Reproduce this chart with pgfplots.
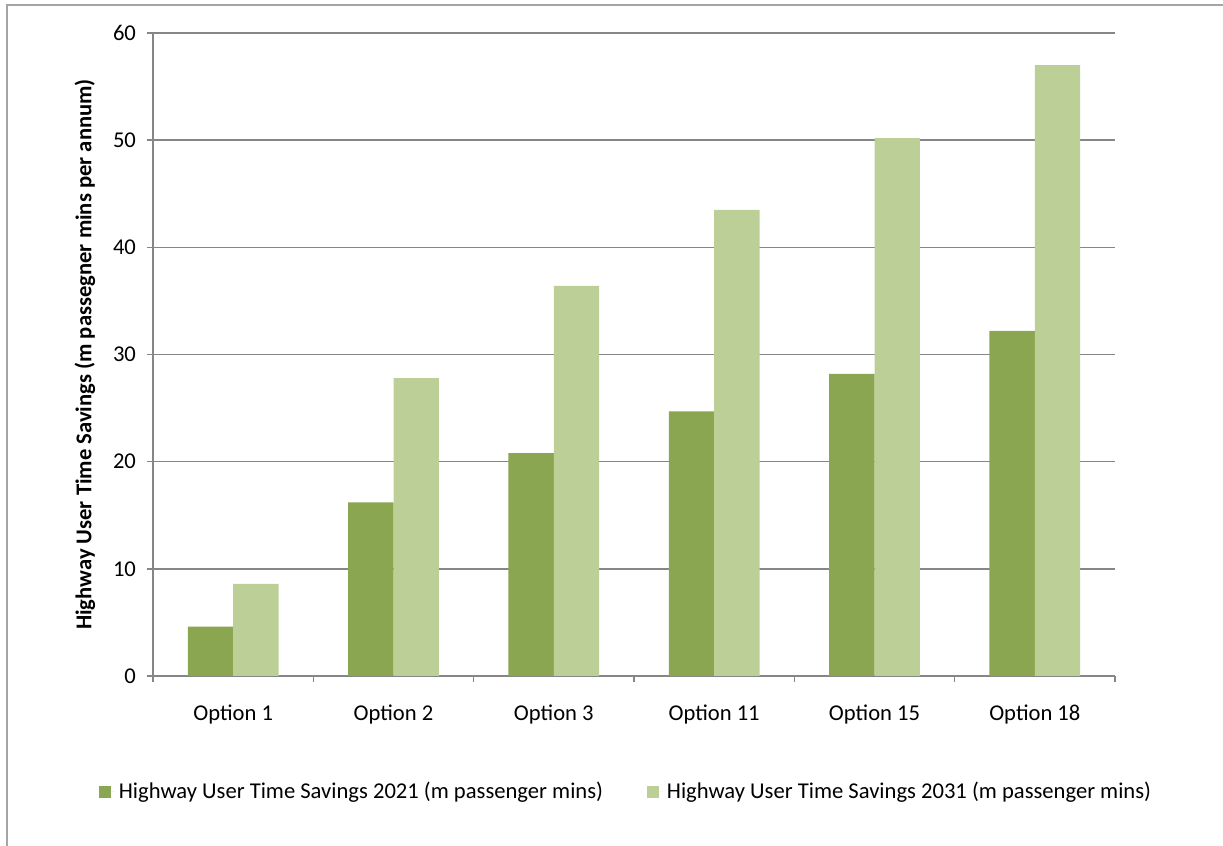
\documentclass[border=0pt]{standalone}
\usepackage{fontspec}
\setmainfont{Carlito}
\usepackage{pgfplots}
\pgfplotsset{compat=1.18}

\definecolor{darkolive}{RGB}{139,166,80}
\definecolor{lightolive}{RGB}{187,207,151}
\definecolor{gridgray}{RGB}{134,134,134}
\definecolor{framegray}{RGB}{165,165,165}

\newcommand{\chartfont}{\fontsize{11.3}{13}\selectfont}

\begin{document}
\begin{tikzpicture}
% page extent and the chart frame (top and left edges)
\path[use as bounding box] (0pt,0pt) rectangle (611.5pt,423pt);
\draw[framegray, line width=0.8pt] (3.5pt,0pt) -- (3.5pt,420.5pt) -- (611.5pt,420.5pt);

\begin{axis}[
  at={(76.5pt,85pt)}, anchor=south west,
  scale only axis,
  width=481pt, height=321.5pt,
  ybar=0pt, bar width=22.7pt,
  xmin=-0.5, xmax=5.5,
  ymin=0, ymax=60,
  ytick={0,10,...,60},
  xtick={0,...,5},
  xticklabels={Option 1,Option 2,Option 3,Option 11,Option 15,Option 18},
  minor xtick={-0.5,0.5,...,5.5},
  x tick style={draw=gridgray, line width=0.8pt},
  major x tick style={draw=none},
  axis x line=bottom, axis y line=left,
  axis line style={draw=gridgray, line width=0.8pt, -},
  y tick style={draw=gridgray, line width=0.8pt},
  major tick length=3pt, minor tick length=3pt,
  tick align=outside,
  ymajorgrids,
  grid style={draw=gridgray, line width=0.8pt},
  /pgf/number format/assume math mode=true,
  tick label style={font=\chartfont},
  yticklabel style={xshift=-2pt},
  xticklabel style={yshift=-8pt},
  ylabel={Highway User Time Savings (m passegner mins per annum)},
  ylabel style={font=\chartfont\bfseries, at={(axis description cs:-0.0707,0.5)}, anchor=center},
  legend columns=2,
  legend style={draw=none, fill=none, at={(axis description cs:0.4927,-0.1804)}, anchor=center,
    font=\chartfont,
    /tikz/every even column/.append style={column sep=20pt}},
  legend image code/.code={\path (0pt,0pt) -- (8pt,0pt);\fill[#1] (0pt,-3pt) rectangle (6pt,3pt);},
]
\addplot[fill=darkolive, draw=none] coordinates {(0,4.6) (1,16.2) (2,20.8) (3,24.7) (4,28.2) (5,32.2)};
\addplot[fill=lightolive, draw=none] coordinates {(0,8.6) (1,27.8) (2,36.4) (3,43.5) (4,50.2) (5,57.0)};
\legend{Highway User Time Savings 2021 (m passenger mins),Highway User Time Savings 2031 (m passenger mins)}
\end{axis}
\end{tikzpicture}
\end{document}
